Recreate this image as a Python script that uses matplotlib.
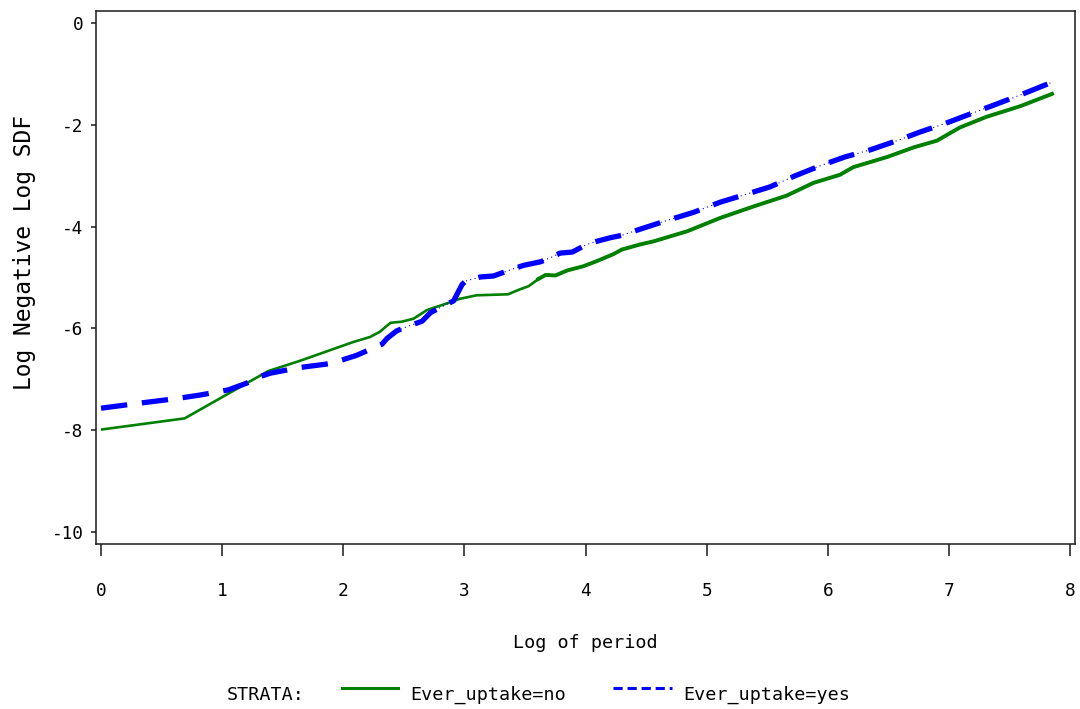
import matplotlib
matplotlib.use('Agg')
import matplotlib.pyplot as plt
from matplotlib.lines import Line2D
import numpy as np

# Log-negative-log survival curves
green_x = [0, 0.69, 1.38, 1.64, 2.08, 2.22, 2.30, 2.39, 2.48, 2.58, 2.69, 2.83,
           2.96, 3.10, 3.36, 3.45, 3.53, 3.61, 3.67, 3.75, 3.85, 3.98, 4.09,
           4.23, 4.30, 4.45, 4.56, 4.84, 5.11, 5.39, 5.66, 5.88, 6.10, 6.21,
           6.49, 6.71, 6.90, 7.09, 7.31, 7.59, 7.85]
green_y = [-7.99, -7.77, -6.84, -6.64, -6.27, -6.17, -6.07, -5.89, -5.87, -5.81,
           -5.64, -5.53, -5.42, -5.35, -5.33, -5.24, -5.17, -5.03, -4.95, -4.96,
           -4.86, -4.78, -4.68, -4.54, -4.45, -4.35, -4.29, -4.09, -3.83, -3.60,
           -3.39, -3.14, -2.98, -2.83, -2.63, -2.44, -2.31, -2.05, -1.84, -1.63,
           -1.39]

blue_x = [0, 0.32, 0.625, 0.82, 1.05, 1.20, 1.31, 1.40, 1.64, 1.90, 2.11, 2.32,
          2.36, 2.44, 2.52, 2.65, 2.72, 2.85, 2.91, 2.98, 3.01, 3.13, 3.24, 3.39,
          3.49, 3.63, 3.71, 3.79, 3.89, 4.01, 4.09, 4.20, 4.30, 4.45, 4.67, 4.89,
          5.11, 5.33, 5.52, 5.73, 5.94, 6.14, 6.35, 6.57, 6.76, 6.97, 7.18, 7.37,
          7.59, 7.84]
blue_y = [-7.57, -7.47, -7.38, -7.31, -7.21, -7.08, -6.95, -6.88, -6.77, -6.69,
          -6.53, -6.31, -6.20, -6.05, -5.97, -5.86, -5.69, -5.53, -5.46, -5.14,
          -5.07, -4.99, -4.97, -4.84, -4.76, -4.69, -4.61, -4.52, -4.50, -4.35,
          -4.29, -4.22, -4.17, -4.05, -3.88, -3.72, -3.52, -3.36, -3.22, -3.00,
          -2.80, -2.63, -2.49, -2.31, -2.14, -1.97, -1.78, -1.61, -1.41, -1.17]

x_ticks = [0, 1, 2, 3, 4, 5, 6, 7, 8]
y_ticks = [0, -2, -4, -6, -8, -10]

plt.rcParams['font.family'] = ['DejaVu Sans Mono']
plt.rcParams['axes.unicode_minus'] = False

fig = plt.figure(figsize=(10.8, 7.09), dpi=100)
ax = fig.add_axes([0.0886, 0.2327, 0.9068, 0.7518])

gx = np.array(green_x)
gy = np.array(green_y)
bx = np.array(blue_x)
by = np.array(blue_y)

# green: solid, a bit heavier where the steps are dense
ax.plot(gx, gy, color='green', lw=1.9, solid_capstyle='butt', zorder=3)
dense = gx >= 3.55
ax.plot(gx[dense], gy[dense], color='green', lw=2.8, zorder=3)

# blue: thin dotted connector under the thick dashes
thin = bx >= 2.4
ax.plot(bx[thin], by[thin], color='blue', lw=0.8, ls=(0, (1, 3)), zorder=4)
ax.plot(bx, by, color='blue', lw=3.8, ls=(0, (5, 2.8)), zorder=4)

ax.set_xlim(-0.044, 8.04)
ax.set_ylim(-10.24, 0.24)
ax.set_xticks(x_ticks)
ax.set_yticks(y_ticks)
ax.set_xticklabels([str(t) for t in x_ticks])
ax.set_yticklabels([str(t) for t in y_ticks])

for s in ax.spines.values():
    s.set_linewidth(1.1)
    s.set_color('#1a1a1a')

ax.tick_params(axis='x', direction='out', length=8.5, width=1.1,
               pad=19, labelsize=12.8, color='#1a1a1a')
ax.tick_params(axis='y', direction='out', length=3.8, width=1.1,
               pad=5, labelsize=12.8, color='#1a1a1a')

# axis labels
fig.text(585 / 1080, 1 - 643 / 709, 'Log of period', ha='center', va='center',
         fontsize=13.2)
fig.text(25 / 1080, 1 - 253 / 709, 'Log Negative Log SDF', ha='center',
         va='center', rotation=90, fontsize=16.5)

# legend row at the bottom
ly = 1 - 687.5 / 709
ty = 1 - 695 / 709
fig.text(227 / 1080, ty, 'STRATA:', ha='left', va='center', fontsize=13.2)
fig.add_artist(Line2D([342 / 1080, 398 / 1080], [ly, ly], color='green', lw=2.2,
                      transform=fig.transFigure))
fig.text(410 / 1080, ty, 'Ever_uptake=no', ha='left', va='center', fontsize=13.2)
fig.add_artist(Line2D([613 / 1080, 672 / 1080], [ly, ly], color='blue', lw=2.2,
                      ls=(0, (3, 1.6)), transform=fig.transFigure))
fig.text(683 / 1080, ty, 'Ever_uptake=yes', ha='left', va='center', fontsize=13.2)

fig.savefig('out.png', dpi=100)
